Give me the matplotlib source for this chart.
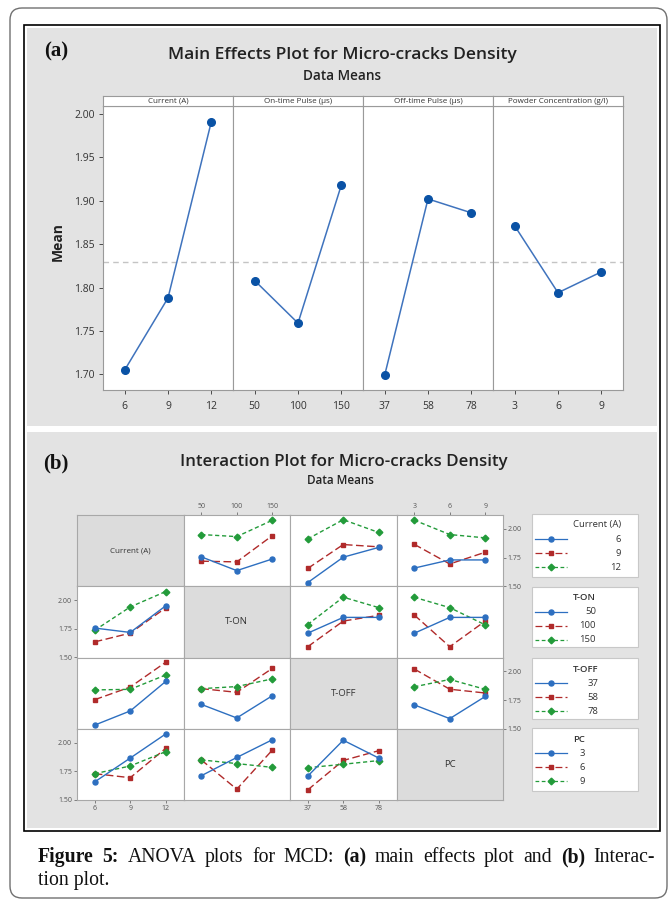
import matplotlib
matplotlib.use('Agg')
import matplotlib.pyplot as plt
from matplotlib.patches import FancyBboxPatch, Rectangle
from matplotlib.lines import Line2D
import numpy as np

plt.rcParams['font.family'] = ['Open Sans', 'DejaVu Sans']

W, H = 671, 902

# ---------------- data ----------------
strip_names = ['Current (A)', 'On-time Pulse (µs)', 'Off-time Pulse (µs)', 'Powder Concentration (g/l)']
short_names = ['Current (A)', 'T-ON', 'T-OFF', 'PC']
levels = [['6', '9', '12'], ['50', '100', '150'], ['37', '58', '78'], ['3', '6', '9']]

main_current = [1.705, 1.788, 1.991]
main_ton = [1.808, 1.759, 1.918]
main_toff = [1.699, 1.902, 1.886]
main_pc = [1.871, 1.794, 1.818]
grand_mean = 1.829

# two-way means: rows = levels of first factor, cols = levels of second factor
cur_ton = [[1.756, 1.636, 1.737], [1.718, 1.712, 1.940], [1.950, 1.932, 2.074]]
cur_toff = [[1.532, 1.753, 1.838], [1.655, 1.863, 1.843], [1.912, 2.079, 1.968]]
cur_pc = [[1.658, 1.729, 1.729], [1.865, 1.694, 1.796], [2.075, 1.950, 1.921]]
ton_toff = [[1.712, 1.849, 1.849], [1.594, 1.817, 1.867], [1.787, 2.025, 1.934]]
ton_pc = [[1.711, 1.849, 1.849], [1.870, 1.594, 1.817], [2.024, 1.934, 1.784]]
toff_pc = [[1.708, 1.588, 1.781], [2.020, 1.844, 1.811], [1.865, 1.929, 1.843]]

main_vals = [main_current, main_ton, main_toff, main_pc]
tables = {(0, 1): cur_ton, (0, 2): cur_toff, (0, 3): cur_pc,
          (1, 2): ton_toff, (1, 3): ton_pc, (2, 3): toff_pc}

# ---------------- styles ----------------
GRAY = '#e3e3e3'
DIAG = '#dcdcdc'
SPINE = '#9a9a9a'
TXT = '#333333'
ME_LINE = '#3f73bd'
ME_MARK = '#0a52a5'
BLUE = '#2d6fc0'
RED = '#b02a2a'
GREEN = '#239b3a'
series_styles = [
    dict(color=BLUE, ls='-', marker='o', ms=3.6, lw=1.0),
    dict(color=RED, ls=(0, (5.5, 2.5)), marker='s', ms=3.4, lw=1.0),
    dict(color=GREEN, ls=(0, (3, 2)), marker='D', ms=3.4, lw=1.0),
]


def frect(x0, y0, x1, y1):
    return [x0 / W, 1 - y1 / H, (x1 - x0) / W, (y1 - y0) / H]


fig = plt.figure(figsize=(W / 100, H / 100), dpi=100)
fig.patch.set_facecolor('white')
bg = fig.add_axes([0, 0, 1, 1], zorder=-5)
bg.set_xlim(0, W)
bg.set_ylim(H, 0)
bg.axis('off')

bg.add_patch(FancyBboxPatch((10, 8), 657, 890, boxstyle='round,pad=0,rounding_size=12',
                            fc='white', ec='#707070', lw=1.0))
bg.add_patch(Rectangle((24, 25), 636, 806, fc='white', ec='black', lw=1.2))
bg.add_patch(Rectangle((27, 28), 630, 398, fc=GRAY, ec='none'))
bg.add_patch(Rectangle((27, 432), 630, 396, fc=GRAY, ec='none'))

# ---------------- (a) main effects ----------------
bg.text(56, 51, '(a)', family='Liberation Serif', weight='bold', fontsize=15,
        ha='center', va='center', color='#111111')
bg.text(342, 55, 'Main Effects Plot for Micro-cracks Density', fontsize=12.6,
        weight='semibold', ha='center', va='center', color='#222222')
bg.text(342, 76, 'Data Means', fontsize=9.8, weight='semibold', ha='center',
        va='center', color='#222222')
bg.text(58, 242, 'Mean', fontsize=10, weight='bold', rotation=90, ha='center',
        va='center', color='#222222')

x0, pw = 103, 130
for k in range(4):
    ax = fig.add_axes(frect(x0 + k * pw, 106, x0 + (k + 1) * pw, 390))
    ax.axhline(grand_mean, color='#c4c4c4', ls=(0, (4, 3)), lw=1.0, zorder=1)
    ax.plot(range(3), main_vals[k], color=ME_LINE, lw=1.1, marker='o', ms=5.5,
            mfc=ME_MARK, mec=ME_MARK, zorder=3)
    ax.set_xlim(-0.5, 2.5)
    ax.set_ylim(1.682, 2.009)
    ax.set_xticks(range(3))
    ax.set_xticklabels(levels[k])
    yt = np.arange(1.70, 2.001, 0.05)
    ax.set_yticks(yt)
    ax.set_yticklabels(['%.2f' % v for v in yt])
    ax.tick_params(axis='both', labelsize=7.5, colors=TXT, length=3, width=0.6, pad=3)
    ax.tick_params(axis='x', pad=5)
    if k > 0:
        ax.tick_params(axis='y', left=False, labelleft=False)
    for s in ax.spines.values():
        s.set_color(SPINE)
        s.set_linewidth(0.8)
    st = fig.add_axes(frect(x0 + k * pw, 96, x0 + (k + 1) * pw, 106))
    st.set_xticks([])
    st.set_yticks([])
    st.set_facecolor('white')
    for s in st.spines.values():
        s.set_color(SPINE)
        s.set_linewidth(0.8)
    st.text(0.5, 0.45, strip_names[k], fontsize=5.8, ha='center', va='center',
            color=TXT, transform=st.transAxes)

# ---------------- (b) interaction ----------------
bg.text(56, 463, '(b)', family='Liberation Serif', weight='bold', fontsize=15,
        ha='center', va='center', color='#111111')
bg.text(344, 462, 'Interaction Plot for Micro-cracks Density', fontsize=12.2,
        weight='semibold', ha='center', va='center', color='#222222')
bg.text(340, 481, 'Data Means', fontsize=8.4, weight='semibold', ha='center',
        va='center', color='#222222')

gx0, gy0, cw, ch = 77, 515, 106.5, 71.25
for i in range(4):
    for j in range(4):
        ax = fig.add_axes(frect(gx0 + j * cw, gy0 + i * ch, gx0 + (j + 1) * cw, gy0 + (i + 1) * ch))
        for s in ax.spines.values():
            s.set_color('#a8a8a8')
            s.set_linewidth(0.8)
        ax.set_xlim(-0.5, 2.5)
        ax.set_ylim(1.5, 2.12)
        if i == j:
            ax.set_facecolor(DIAG)
            ax.set_xticks([])
            ax.set_yticks([])
            ax.text(0.5, 0.5, short_names[i], fontsize=6.8 if i else 5.8,
                    ha='center', va='center', color=TXT, transform=ax.transAxes)
            continue
        if i < j:
            t = np.array(tables[(i, j)])
        else:
            t = np.array(tables[(j, i)]).T
        for k in (1, 2, 0):
            st_ = series_styles[k]
            ax.plot(range(3), t[k], color=st_['color'], ls=st_['ls'], lw=st_['lw'],
                    marker=st_['marker'], ms=st_['ms'], mfc=st_['color'], mec=st_['color'])
        ax.set_xticks(range(3))
        ax.set_xticklabels(levels[j])
        ax.set_yticks([1.5, 1.75, 2.0])
        ax.set_yticklabels(['1.50', '1.75', '2.00'])
        ax.tick_params(axis='both', labelsize=5, colors='#555555', length=2,
                       width=0.5, pad=1.5)
        show_left = (j == 0 and i in (1, 3))
        show_right = (j == 3 and i in (0, 2))
        show_top = (i == 0 and j in (1, 3))
        show_bottom = (i == 3 and j in (0, 2))
        ax.tick_params(axis='y', left=show_left, labelleft=show_left,
                       right=show_right, labelright=show_right)
        ax.tick_params(axis='x', top=show_top, labeltop=show_top,
                       bottom=show_bottom, labelbottom=show_bottom)

# ---------------- legends ----------------
fig.canvas.draw()
renderer = fig.canvas.get_renderer()
leg_boxes = [(514, 577), (587, 647), (658, 719), (728, 791)]
for f, (ly0, ly1) in enumerate(leg_boxes):
    bg.add_patch(Rectangle((532, ly0), 106, ly1 - ly0, fc='white', ec='#c8c8c8', lw=0.8))
    tt = bg.text(573, ly0 + 11, short_names[f], fontsize=6.8, ha='left', va='center',
                 color=TXT, weight='semibold' if f else 'normal')
    bb = tt.get_window_extent(renderer)
    right = 573 + bb.width
    for k in range(3):
        yy = ly0 + 25 + k * 14
        st_ = series_styles[k]
        bg.add_line(Line2D([535, 551, 567], [yy, yy, yy], color=st_['color'], ls=st_['ls'],
                           lw=0.9, marker=st_['marker'], ms=st_['ms'], markevery=[1],
                           mfc=st_['color'], mec=st_['color']))
        bg.text(right, yy, levels[f][k], fontsize=6.8, ha='right', va='center', color=TXT)

# ---------------- caption ----------------
cap_words = [('Figure', 'bold'), ('5:', 'bold'), ('ANOVA', 'normal'), ('plots', 'normal'),
             ('for', 'normal'), ('MCD:', 'normal'), ('(a)', 'bold'), ('main', 'normal'),
             ('effects', 'normal'), ('plot', 'normal'), ('and', 'normal'), ('(b)', 'bold'),
             ('Interac-', 'normal')]
cx0, cx1, cy = 38, 655, 862
widths = []
objs = []
for w_, wt in cap_words:
    o = bg.text(0, cy, w_, family='Liberation Serif', weight=wt, fontsize=14.2,
                ha='left', va='baseline', color='#111111')
    objs.append(o)
    widths.append(o.get_window_extent(renderer).width)
gap = (cx1 - cx0 - sum(widths)) / (len(cap_words) - 1)
xx = cx0
for o, wd in zip(objs, widths):
    o.set_x(xx)
    xx += wd + gap
bg.text(cx0, 885, 'tion plot.', family='Liberation Serif', fontsize=14.2,
        ha='left', va='baseline', color='#111111')

fig.savefig('out.png', dpi=100, facecolor='white')
